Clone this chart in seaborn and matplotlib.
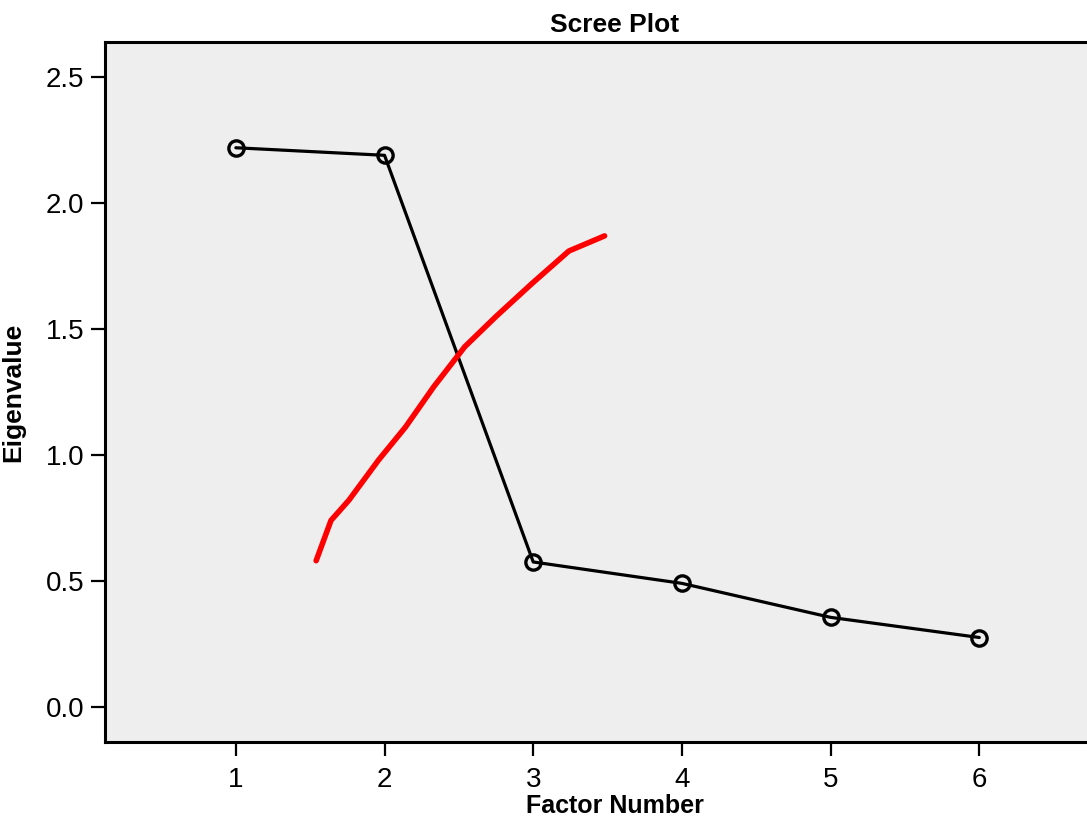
import matplotlib
matplotlib.use("Agg")
import matplotlib.pyplot as plt
import seaborn as sns
import pandas as pd

factor_number = [1, 2, 3, 4, 5, 6]
eigenvalue = [2.22, 2.19, 0.575, 0.49, 0.355, 0.275]

# hand-drawn red annotation curve
red_x = [1.54, 1.64, 1.76, 1.96, 2.14, 2.33, 2.54, 2.75, 2.99, 3.24, 3.48]
red_y = [0.58, 0.74, 0.82, 0.98, 1.11, 1.27, 1.43, 1.55, 1.68, 1.81, 1.87]

sns.set_theme(style="ticks")
plt.rcParams['font.family'] = ['Liberation Sans', 'DejaVu Sans']
plt.rcParams['text.color'] = 'black'
plt.rcParams['axes.labelcolor'] = 'black'

fig = plt.figure(figsize=(10.87, 8.22), dpi=100)
ax = fig.add_axes([105/1087, 80/822, (1125-105)/1087, 700/822])
ax.set_facecolor("#eeeeee")

df = pd.DataFrame({"Factor Number": factor_number, "Eigenvalue": eigenvalue})
sns.lineplot(data=df, x="Factor Number", y="Eigenvalue", ax=ax, color="black",
             linewidth=2.3, marker="o", markersize=11, markerfacecolor="none",
             markeredgecolor="black", markeredgewidth=2.4)

red = pd.DataFrame({"x": red_x, "y": red_y})
sns.lineplot(data=red, x="x", y="y", ax=ax, sort=False, color="#ff0000",
             linewidth=4, estimator=None)

ax.set_xlim(0.12, 6.98)
ax.set_ylim(-0.14, 2.64)
ax.set_xticks(factor_number)
ax.set_yticks([0.0, 0.5, 1.0, 1.5, 2.0, 2.5])
ax.set_yticklabels(["0.0", "0.5", "1.0", "1.5", "2.0", "2.5"])

for s in ["left", "bottom", "top"]:
    ax.spines[s].set_linewidth(2.2)
    ax.spines[s].set_color("black")
ax.spines["right"].set_visible(False)
ax.tick_params(axis="both", direction="out", length=10, width=1.6,
               labelsize=20, colors="black", pad=5)
ax.tick_params(axis="x", pad=8)

ax.set_xlabel("Factor Number", fontsize=18, fontweight="bold", labelpad=1)
ax.set_ylabel("Eigenvalue", fontsize=19, fontweight="bold")
ax.yaxis.set_label_coords(-0.078, 0.5)
ax.set_title("Scree Plot", fontsize=19, fontweight="bold", pad=7)

fig.savefig("out.png", dpi=100)
